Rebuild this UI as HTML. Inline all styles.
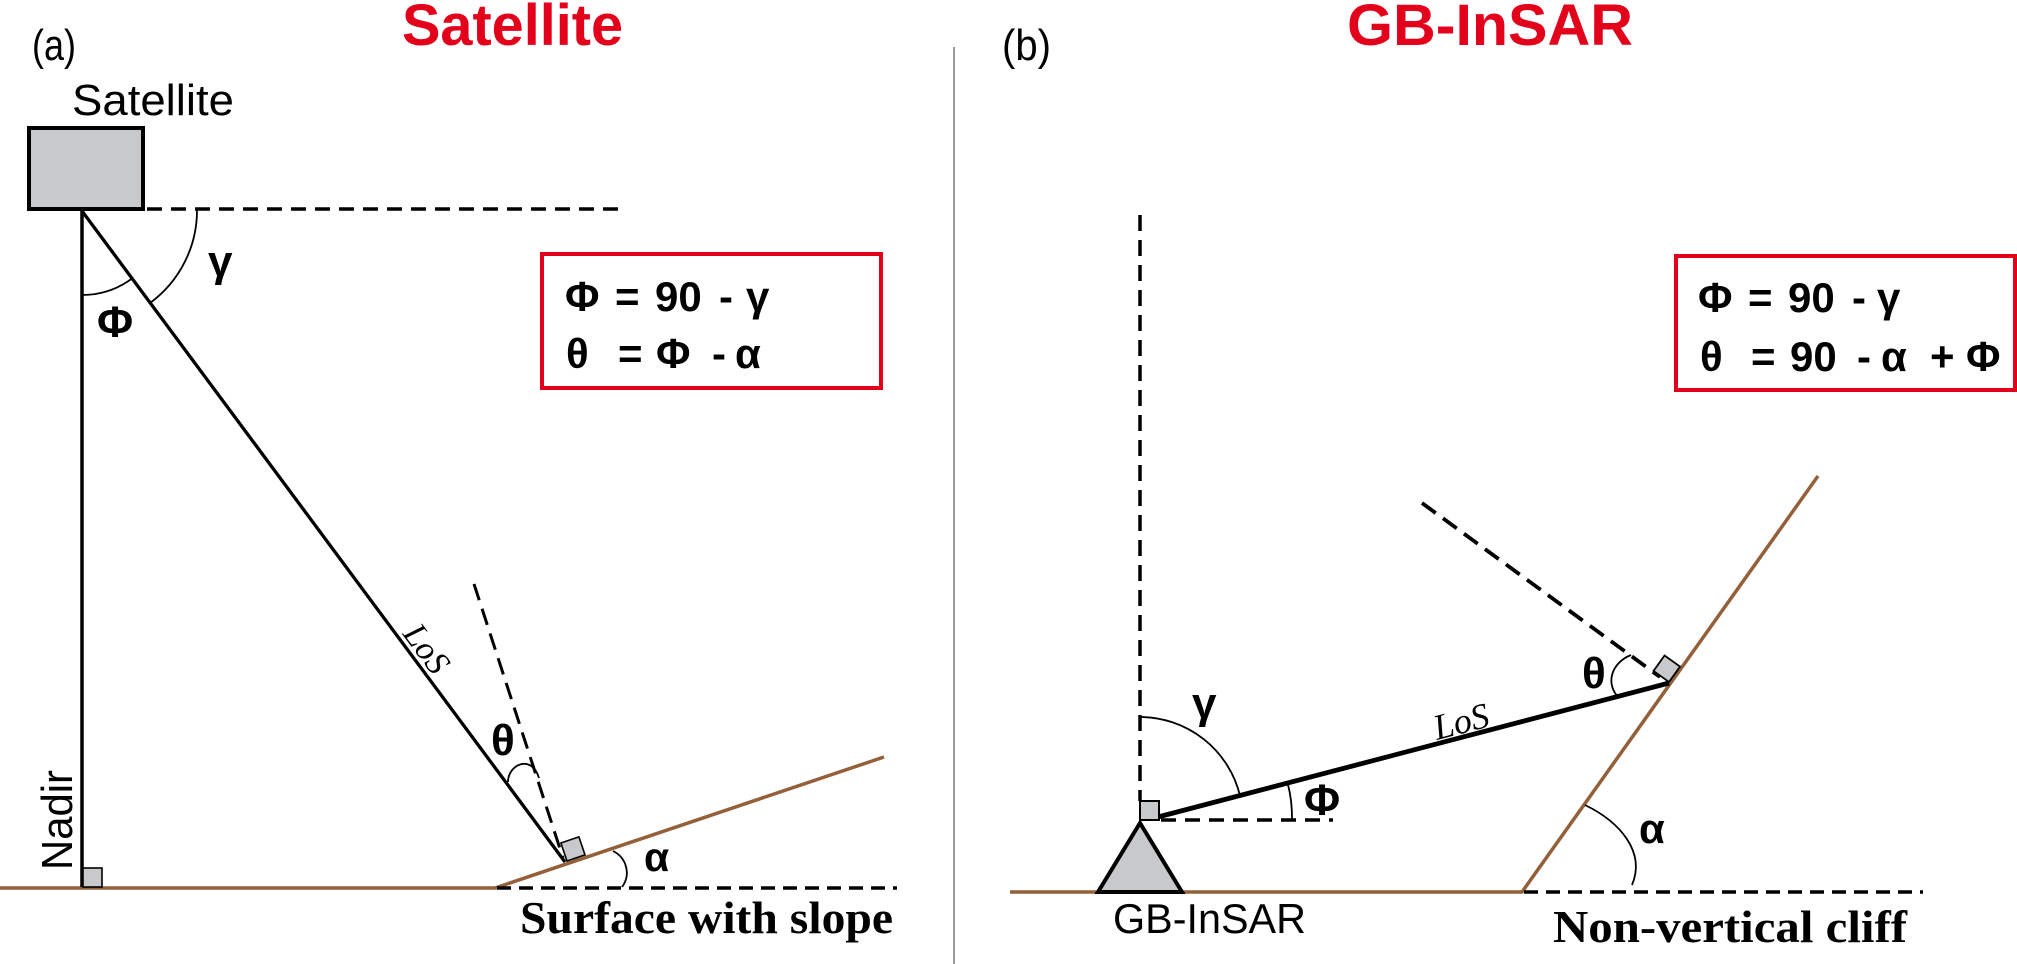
<!DOCTYPE html>
<html><head><meta charset="utf-8"><style>
html,body{margin:0;padding:0;background:#fff;}
svg{display:block;}
text{font-family:"Liberation Sans",sans-serif;}
.sym{font-family:"Liberation Sans",sans-serif;font-weight:bold;font-size:44px;fill:#000;}
.eq{font-family:"Liberation Sans",sans-serif;font-weight:bold;font-size:42px;fill:#000;}
.ttl{font-family:"Liberation Sans",sans-serif;font-weight:bold;font-size:58px;fill:#E2001A;}
.lbl{font-family:"Liberation Sans",sans-serif;font-size:44px;fill:#000;}
.ser{font-family:"Liberation Serif",serif;font-weight:bold;font-size:46px;fill:#000;}
.los{font-family:"Liberation Serif",serif;font-style:italic;font-size:34px;fill:#000;}
</style></head><body>
<svg width="2017" height="964" viewBox="0 0 2017 964" xmlns="http://www.w3.org/2000/svg">
<rect width="2017" height="964" fill="#fff"/>

<!-- separator -->
<line x1="954" y1="47" x2="954" y2="964" stroke="#808080" stroke-width="1.6"/>

<!-- ===== Panel (a) ===== -->
<text class="lbl" x="32" y="60" textLength="44" lengthAdjust="spacingAndGlyphs">(a)</text>
<text class="ttl" x="402" y="45" textLength="221" lengthAdjust="spacingAndGlyphs">Satellite</text>
<text class="lbl" x="72" y="115" textLength="162" lengthAdjust="spacingAndGlyphs">Satellite</text>

<!-- ground -->
<polyline points="0,888 495,888 884,757" fill="none" stroke="#93603A" stroke-width="3.5" stroke-linejoin="round"/>
<line x1="497" y1="888" x2="897" y2="888" stroke="#000" stroke-width="3.5" stroke-dasharray="14 8"/>

<!-- top dashed -->
<line x1="147" y1="209" x2="620" y2="209" stroke="#000" stroke-width="3.5" stroke-dasharray="15 9"/>
<!-- nadir -->
<line x1="82" y1="211" x2="82" y2="887" stroke="#000" stroke-width="3.5"/>
<!-- LoS -->
<line x1="82" y1="211" x2="565" y2="862" stroke="#000" stroke-width="3.3"/>
<!-- normal -->
<line x1="474" y1="584" x2="563" y2="858" stroke="#000" stroke-width="3" stroke-dasharray="17 9"/>

<!-- satellite box -->
<rect x="29" y="128" width="114" height="81" fill="#C8C9CB" stroke="#000" stroke-width="4"/>

<!-- right-angle squares -->
<rect x="83" y="868" width="19" height="19" fill="#C8C9CB" stroke="#000" stroke-width="1.6"/>
<rect x="0" y="-19" width="19" height="19" fill="#C8C9CB" stroke="#000" stroke-width="1.6" transform="translate(567,861) rotate(-18.7)"/>

<!-- arcs -->
<path d="M197,209 A115,115 0 0 1 150,303" fill="none" stroke="#000" stroke-width="1.8"/>
<path d="M82,295 A84,84 0 0 0 132,278.5" fill="none" stroke="#000" stroke-width="1.8"/>
<path d="M508,782 C508,764 532,754 539,778" fill="none" stroke="#000" stroke-width="1.8"/>
<path d="M613,851 C627,858 631,875 622,887" fill="none" stroke="#000" stroke-width="1.8"/>

<!-- labels -->
<text class="sym" x="208" y="276">γ</text>
<text class="sym" x="97" y="337">Φ</text>
<text class="sym" x="491" y="755">θ</text>
<text class="sym" x="644" y="871" style="font-size:41px">α</text>
<text class="lbl" transform="translate(72,870) rotate(-90)" textLength="100" lengthAdjust="spacingAndGlyphs">Nadir</text>
<text class="los" transform="translate(402,634) rotate(53.5)">LoS</text>
<text class="ser" x="520" y="933" textLength="373" lengthAdjust="spacingAndGlyphs">Surface with slope</text>

<!-- formula box (a) -->
<rect x="542" y="254" width="339" height="134" fill="none" stroke="#E2001A" stroke-width="4"/>
<text class="eq" x="565" y="311">Φ</text>
<text class="eq" x="615" y="311">=</text>
<text class="eq" x="655" y="311">90</text>
<text class="eq" x="719" y="311">-</text>
<text class="eq" x="746" y="311">γ</text>
<text class="eq" x="566" y="368">θ</text>
<text class="eq" x="618" y="368">=</text>
<text class="eq" x="656" y="368">Φ</text>
<text class="eq" x="712" y="368">-</text>
<text class="eq" x="735" y="368">α</text>

<!-- ===== Panel (b) ===== -->
<text class="lbl" x="1002" y="60" textLength="49" lengthAdjust="spacingAndGlyphs">(b)</text>
<text class="ttl" x="1347" y="45" textLength="286" lengthAdjust="spacingAndGlyphs">GB-InSAR</text>

<!-- ground & cliff -->
<polyline points="1010,892 1522,892 1818,476" fill="none" stroke="#93603A" stroke-width="3.5" stroke-linejoin="round"/>
<line x1="1524" y1="892" x2="1923" y2="892" stroke="#000" stroke-width="3.5" stroke-dasharray="14 8"/>

<!-- vertical dashed -->
<line x1="1140" y1="215" x2="1140" y2="801" stroke="#000" stroke-width="3.5" stroke-dasharray="16 9"/>
<!-- horizontal dashed from instrument -->
<line x1="1161" y1="820" x2="1333" y2="820" stroke="#000" stroke-width="3.5" stroke-dasharray="15 9"/>
<!-- LoS -->
<line x1="1158" y1="817" x2="1669" y2="683" stroke="#000" stroke-width="4.8"/>
<!-- normal -->
<line x1="1422" y1="503" x2="1660" y2="677" stroke="#000" stroke-width="3.8" stroke-dasharray="17 9"/>

<!-- instrument -->
<polygon points="1140,823 1098,892 1182,892" fill="#C8C9CB" stroke="#000" stroke-width="4" stroke-linejoin="miter"/>
<rect x="1140" y="801" width="19" height="19" fill="#C8C9CB" stroke="#000" stroke-width="2"/>
<rect x="0" y="-19" width="19" height="19" fill="#C8C9CB" stroke="#000" stroke-width="1.8" transform="translate(1669,682) rotate(-54.5)"/>

<!-- arcs -->
<path d="M1140,717 A103,103 0 0 1 1240,795.7" fill="none" stroke="#000" stroke-width="1.8"/>
<path d="M1287.7,783.4 A134,134 0 0 1 1292,819" fill="none" stroke="#000" stroke-width="1.8"/>
<path d="M1631,655 C1611,663 1605,684 1619,698" fill="none" stroke="#000" stroke-width="1.8"/>
<path d="M1585,805 C1620,822 1646,852 1632,885" fill="none" stroke="#000" stroke-width="1.8"/>

<!-- labels -->
<text class="sym" x="1192" y="718">γ</text>
<text class="sym" x="1304" y="815">Φ</text>
<text class="sym" x="1582" y="688">θ</text>
<text class="sym" x="1639" y="843" style="font-size:42px">α</text>
<text class="los" transform="translate(1437,740) rotate(-14.5)" style="font-size:36px">LoS</text>
<text class="lbl" x="1113" y="933" style="font-size:42px" textLength="193" lengthAdjust="spacingAndGlyphs">GB-InSAR</text>
<text class="ser" x="1553" y="942" textLength="354" lengthAdjust="spacingAndGlyphs">Non-vertical cliff</text>

<!-- formula box (b) -->
<rect x="1676" y="256" width="339" height="134" fill="none" stroke="#E2001A" stroke-width="4"/>
<text class="eq" x="1698" y="312">Φ</text>
<text class="eq" x="1748" y="312">=</text>
<text class="eq" x="1788" y="312">90</text>
<text class="eq" x="1852" y="312">-</text>
<text class="eq" x="1877" y="312">γ</text>
<text class="eq" x="1700" y="371">θ</text>
<text class="eq" x="1751" y="371">=</text>
<text class="eq" x="1790" y="371">90</text>
<text class="eq" x="1857" y="371">-</text>
<text class="eq" x="1881" y="371">α</text>
<text class="eq" x="1930" y="371">+</text>
<text class="eq" x="1966" y="371">Φ</text>
</svg>
</body></html>
